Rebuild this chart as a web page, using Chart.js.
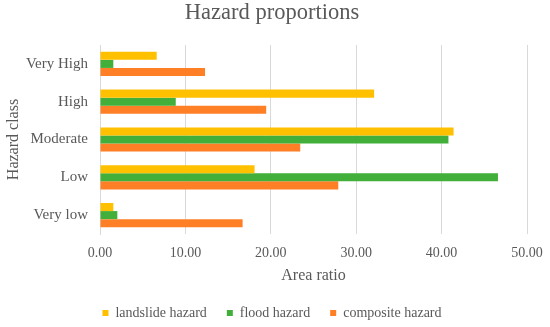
<!DOCTYPE html>
<html>
<head>
<meta charset="UTF-8">
<script src="https://cdn.jsdelivr.net/npm/chart.js"></script>
<style>
  html, body { margin: 0; padding: 0; background: #fff; }
  #wrap { width: 550px; height: 327px; }
</style>
</head>
<body>
<div id="wrap"><canvas id="c"></canvas></div>
<script>
const classes = ['Very High', 'High', 'Moderate', 'Low', 'Very low'];
const landslide = [6.64, 32.10, 41.40, 18.10, 1.56];
const flood = [1.56, 8.87, 40.80, 46.60, 2.03];
const composite = [12.30, 19.46, 23.45, 27.90, 16.70];
const xTicks = [0, 10, 20, 30, 40, 50];

const serif = "'Liberation Serif', 'Times New Roman', serif";
const grey = '#595959';

new Chart(document.getElementById('c'), {
  type: 'bar',
  data: {
    labels: classes,
    datasets: [
      { label: 'landslide hazard', data: landslide, backgroundColor: '#FFC000' },
      { label: 'flood hazard', data: flood, backgroundColor: '#42AF3A' },
      { label: 'composite hazard', data: composite, backgroundColor: '#FF7F27' }
    ]
  },
  options: {
    indexAxis: 'y',
    responsive: true,
    maintainAspectRatio: false,
    animation: false,
    categoryPercentage: 0.64,
    barPercentage: 1.0,
    layout: { padding: { left: 17, right: 23, top: 0, bottom: -3 } },
    plugins: {
      title: {
        display: true,
        text: 'Hazard proportions',
        color: grey,
        font: { family: serif, size: 22.5, weight: 'normal' },
        padding: { top: 0, bottom: 18 }
      },
      legend: {
        position: 'bottom',
        labels: {
          color: grey,
          font: { family: serif, size: 14 },
          usePointStyle: true,
          pointStyle: 'rect',
          boxWidth: 6,
          boxHeight: 6,
          padding: 20
        }
      },
      tooltip: { enabled: false }
    },
    scales: {
      x: {
        min: 0,
        max: 50,
        afterBuildTicks: (axis) => { axis.ticks = xTicks.map(v => ({ value: v })); },
        afterFit: (axis) => { axis.height = 52; axis.paddingRight = 0; },
        ticks: {
          color: grey,
          font: { family: serif, size: 14 },
          callback: (v) => Number(v).toFixed(2),
          padding: 11
        },
        grid: { color: '#D9D9D9', drawTicks: false },
        border: { display: false },
        title: {
          display: true,
          text: 'Area ratio',
          color: grey,
          font: { family: serif, size: 16 },
          padding: { top: 0, bottom: 1 }
        }
      },
      y: {
        afterFit: (axis) => { axis.width = 83; },
        ticks: {
          color: grey,
          font: { family: serif, size: 15 },
          padding: 12
        },
        grid: { display: false, drawTicks: false },
        border: { display: true, color: '#D9D9D9' },
        title: {
          display: true,
          text: 'Hazard class',
          color: grey,
          font: { family: serif, size: 16 },
          padding: { top: -13, bottom: 0 }
        }
      }
    }
  }
});
</script>
</body>
</html>
